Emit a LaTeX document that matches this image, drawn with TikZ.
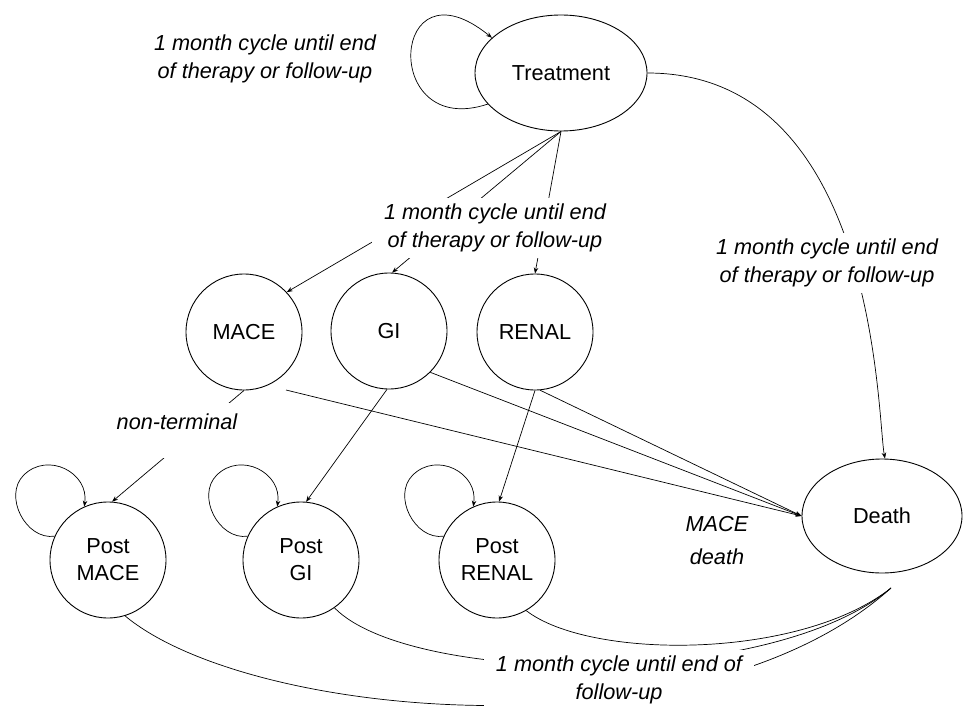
\documentclass[tikz,border=0pt]{standalone}
\usepackage{fontspec}
\setmainfont{Liberation Sans}
\usetikzlibrary{shapes.geometric,arrows.meta,calc}
\begin{document}
\begin{tikzpicture}[x=1pt,y=-1pt,
  every node/.style={font=\fontsize{21.7}{27}\selectfont},
  st/.style={circle,draw,line width=0.9pt,minimum size=116pt,inner sep=0pt,align=center},
  el/.style={ellipse,draw,line width=0.9pt,inner sep=0pt},
  lab/.style={font=\itshape\fontsize{21.7}{28}\selectfont,align=center,fill=white,inner xsep=12pt,inner ysep=6pt},
  con/.style={line width=0.7pt,-{Stealth[length=6pt,width=4.5pt]}},
  plain/.style={line width=0.7pt}]
\useasboundingbox (0,0) rectangle (963,711);
% states
\node[el,minimum width=172pt,minimum height=116pt] (T) at (561,73) {Treatment};
\node[st] (M) at (244,332) {MACE};
\node[st] (G) at (389,331) {GI};
\node[st] (R) at (535,332) {RENAL};
\node[st] (PM) at (108,560) {Post\\MACE};
\node[st] (PG) at (301,560) {Post\\GI};
\node[st] (PR) at (497,560) {Post\\RENAL};
\node[el,minimum width=160pt,minimum height=114pt] (D) at (882,516) {Death};
\coordinate (m0) at (286,390);
\coordinate (dd) at (891,588);
% transitions
\draw[con] (T.south) -- (M.43);
\draw[con] (T.south) -- (G.87);
\draw[con] (T.south) -- (R.north);
\draw[con] (T.203) .. controls (380,140) and (390,-45) .. (T.153);
\draw[con] (T.east) .. controls (878,73) and (877,417) .. (D.87);
\draw[con] (M.south) -- (PM.86);
\draw[con] (G.268) -- (PG.85);
\draw[con] (R.south) -- (PR.88);
\draw[con] (m0) -- (D.west);
\draw[con] (G.-45) -- (D.west);
\draw[con] (R.-85) -- (D.west);
\foreach \n in {PM,PG,PR}{
  \draw[con] (\n.156) .. controls +(-29,4) and +(-20.5,20.5) .. ++(-31,-61)
     .. controls +(24,-24) and +(5,-34) .. (\n.114);
}
\draw[plain] (PM.-73) .. controls (250,720) and (700,760) .. (dd);
\draw[plain] (PG.-55) .. controls (410,685) and (770,690) .. (dd);
\draw[plain] (PR.-60) .. controls (590,660) and (800,660) .. (dd);
% labels
\node[lab] (l1) at (265,59) {1 month cycle until end\\of therapy or follow-up};
\node[lab] (l2) at (495,228) {1 month cycle until end\\of therapy or follow-up};
\node[lab] (l3) at (827,263) {1 month cycle until end\\of therapy or follow-up};
\node[lab] (l4) at (619,680) {1 month cycle until end of\\follow-up};
\node[lab,anchor=north,text height=16pt,text depth=19pt,inner ysep=10pt,inner xsep=6pt] (l5) at (177,403) {non-terminal};
\node[font=\itshape\fontsize{21.7}{33}\selectfont,align=center] (l6) at (717,541) {MACE\\death};
\end{tikzpicture}
\end{document}
